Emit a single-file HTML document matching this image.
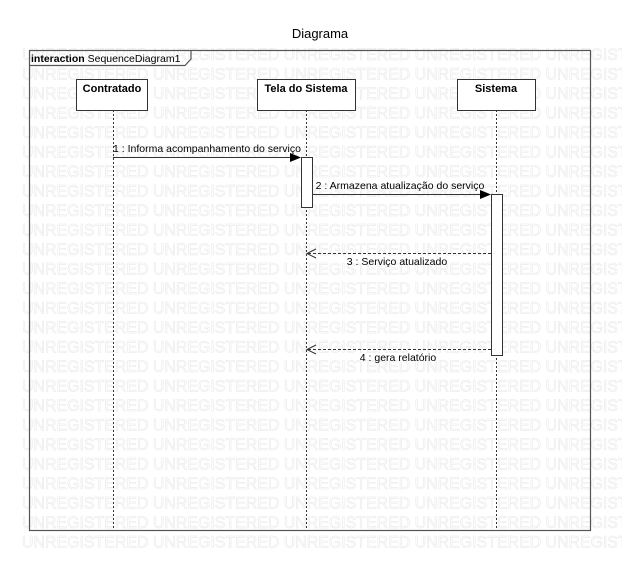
<!DOCTYPE html>
<html><head><meta charset="utf-8"><style>
html,body{margin:0;padding:0;background:#fff;}
svg{display:block;font-family:"Liberation Sans",sans-serif;}
</style></head><body>
<svg width="638" height="566" viewBox="0 0 638 566" xmlns="http://www.w3.org/2000/svg">
<defs><clipPath id="wm"><rect x="0" y="0" width="622" height="566"/></clipPath></defs>
<text x="320" y="38" font-size="13" text-anchor="middle" fill="#000">Diagrama</text>
<g clip-path="url(#wm)" fill="#fff" stroke="#e8e8e8" stroke-width="0.6" font-size="17">
<text x="22" y="60" textLength="650" lengthAdjust="spacingAndGlyphs">UNREGISTERED UNREGISTERED UNREGISTERED UNREGISTERED UNREGISTERED</text>
<text x="22" y="79.5" textLength="650" lengthAdjust="spacingAndGlyphs">UNREGISTERED UNREGISTERED UNREGISTERED UNREGISTERED UNREGISTERED</text>
<text x="22" y="99" textLength="650" lengthAdjust="spacingAndGlyphs">UNREGISTERED UNREGISTERED UNREGISTERED UNREGISTERED UNREGISTERED</text>
<text x="22" y="118.5" textLength="650" lengthAdjust="spacingAndGlyphs">UNREGISTERED UNREGISTERED UNREGISTERED UNREGISTERED UNREGISTERED</text>
<text x="22" y="138" textLength="650" lengthAdjust="spacingAndGlyphs">UNREGISTERED UNREGISTERED UNREGISTERED UNREGISTERED UNREGISTERED</text>
<text x="22" y="157.5" textLength="650" lengthAdjust="spacingAndGlyphs">UNREGISTERED UNREGISTERED UNREGISTERED UNREGISTERED UNREGISTERED</text>
<text x="22" y="177" textLength="650" lengthAdjust="spacingAndGlyphs">UNREGISTERED UNREGISTERED UNREGISTERED UNREGISTERED UNREGISTERED</text>
<text x="22" y="196.5" textLength="650" lengthAdjust="spacingAndGlyphs">UNREGISTERED UNREGISTERED UNREGISTERED UNREGISTERED UNREGISTERED</text>
<text x="22" y="216" textLength="650" lengthAdjust="spacingAndGlyphs">UNREGISTERED UNREGISTERED UNREGISTERED UNREGISTERED UNREGISTERED</text>
<text x="22" y="235.5" textLength="650" lengthAdjust="spacingAndGlyphs">UNREGISTERED UNREGISTERED UNREGISTERED UNREGISTERED UNREGISTERED</text>
<text x="22" y="255" textLength="650" lengthAdjust="spacingAndGlyphs">UNREGISTERED UNREGISTERED UNREGISTERED UNREGISTERED UNREGISTERED</text>
<text x="22" y="274.5" textLength="650" lengthAdjust="spacingAndGlyphs">UNREGISTERED UNREGISTERED UNREGISTERED UNREGISTERED UNREGISTERED</text>
<text x="22" y="294" textLength="650" lengthAdjust="spacingAndGlyphs">UNREGISTERED UNREGISTERED UNREGISTERED UNREGISTERED UNREGISTERED</text>
<text x="22" y="313.5" textLength="650" lengthAdjust="spacingAndGlyphs">UNREGISTERED UNREGISTERED UNREGISTERED UNREGISTERED UNREGISTERED</text>
<text x="22" y="333" textLength="650" lengthAdjust="spacingAndGlyphs">UNREGISTERED UNREGISTERED UNREGISTERED UNREGISTERED UNREGISTERED</text>
<text x="22" y="352.5" textLength="650" lengthAdjust="spacingAndGlyphs">UNREGISTERED UNREGISTERED UNREGISTERED UNREGISTERED UNREGISTERED</text>
<text x="22" y="372" textLength="650" lengthAdjust="spacingAndGlyphs">UNREGISTERED UNREGISTERED UNREGISTERED UNREGISTERED UNREGISTERED</text>
<text x="22" y="391.5" textLength="650" lengthAdjust="spacingAndGlyphs">UNREGISTERED UNREGISTERED UNREGISTERED UNREGISTERED UNREGISTERED</text>
<text x="22" y="411" textLength="650" lengthAdjust="spacingAndGlyphs">UNREGISTERED UNREGISTERED UNREGISTERED UNREGISTERED UNREGISTERED</text>
<text x="22" y="430.5" textLength="650" lengthAdjust="spacingAndGlyphs">UNREGISTERED UNREGISTERED UNREGISTERED UNREGISTERED UNREGISTERED</text>
<text x="22" y="450" textLength="650" lengthAdjust="spacingAndGlyphs">UNREGISTERED UNREGISTERED UNREGISTERED UNREGISTERED UNREGISTERED</text>
<text x="22" y="469.5" textLength="650" lengthAdjust="spacingAndGlyphs">UNREGISTERED UNREGISTERED UNREGISTERED UNREGISTERED UNREGISTERED</text>
<text x="22" y="489" textLength="650" lengthAdjust="spacingAndGlyphs">UNREGISTERED UNREGISTERED UNREGISTERED UNREGISTERED UNREGISTERED</text>
<text x="22" y="508.5" textLength="650" lengthAdjust="spacingAndGlyphs">UNREGISTERED UNREGISTERED UNREGISTERED UNREGISTERED UNREGISTERED</text>
<text x="22" y="528" textLength="650" lengthAdjust="spacingAndGlyphs">UNREGISTERED UNREGISTERED UNREGISTERED UNREGISTERED UNREGISTERED</text>
<text x="22" y="547.5" textLength="650" lengthAdjust="spacingAndGlyphs">UNREGISTERED UNREGISTERED UNREGISTERED UNREGISTERED UNREGISTERED</text>
</g>
<!-- frame -->
<rect x="29.5" y="50.5" width="561" height="480" fill="none" stroke="#555" stroke-width="1.2"/>
<path d="M29.5 65.5 H185 L191 59 V50.5" fill="none" stroke="#555" stroke-width="1.2"/>
<text x="31" y="62" font-size="10.5" fill="#000"><tspan font-weight="bold">interaction</tspan> SequenceDiagram1</text>
<!-- lifelines -->
<g stroke="#333" stroke-width="1" stroke-dasharray="2,2">
<line x1="113.5" y1="110" x2="113.5" y2="528"/>
<line x1="306.5" y1="110" x2="306.5" y2="528"/>
<line x1="496.5" y1="110" x2="496.5" y2="528"/>
</g>
<!-- boxes -->
<g fill="#fff" stroke="#333">
<rect x="76.5" y="79.5" width="71" height="31"/>
<rect x="257.5" y="79.5" width="98" height="31"/>
<rect x="457.5" y="79.5" width="78" height="31"/>
</g>
<g font-size="11" font-weight="bold" text-anchor="middle" fill="#000">
<text x="112" y="92">Contratado</text>
<text x="306" y="92">Tela do Sistema</text>
<text x="496" y="92">Sistema</text>
</g>
<!-- activations -->
<rect x="301.5" y="157.5" width="11" height="50" fill="#fff" stroke="#333"/>
<rect x="491.5" y="194.5" width="11" height="161" fill="#fff" stroke="#333"/>
<!-- messages -->
<line x1="113" y1="157.5" x2="292" y2="157.5" stroke="#333"/>
<polygon points="301,157.5 290,153 290,162" fill="#000"/>
<text x="207" y="152" font-size="10.5" text-anchor="middle" fill="#000">1 : Informa acompanhamento do serviço</text>
<line x1="312" y1="194.5" x2="482" y2="194.5" stroke="#333"/>
<polygon points="491,194.5 480,190 480,199" fill="#000"/>
<text x="400" y="189" font-size="10.5" text-anchor="middle" fill="#000">2 : Armazena atualização do serviço</text>
<line x1="491" y1="253.5" x2="307" y2="253.5" stroke="#333" stroke-dasharray="3,2"/>
<polyline points="316,249 307,253.5 316,258" fill="none" stroke="#333"/>
<text x="397" y="265" font-size="10.5" text-anchor="middle" fill="#000">3 : Serviço atualizado</text>
<line x1="491" y1="349.5" x2="307" y2="349.5" stroke="#333" stroke-dasharray="3,2"/>
<polyline points="316,345 307,349.5 316,354" fill="none" stroke="#333"/>
<text x="398" y="361" font-size="10.5" text-anchor="middle" fill="#000">4 : gera relatório</text>
</svg>
</body></html>
